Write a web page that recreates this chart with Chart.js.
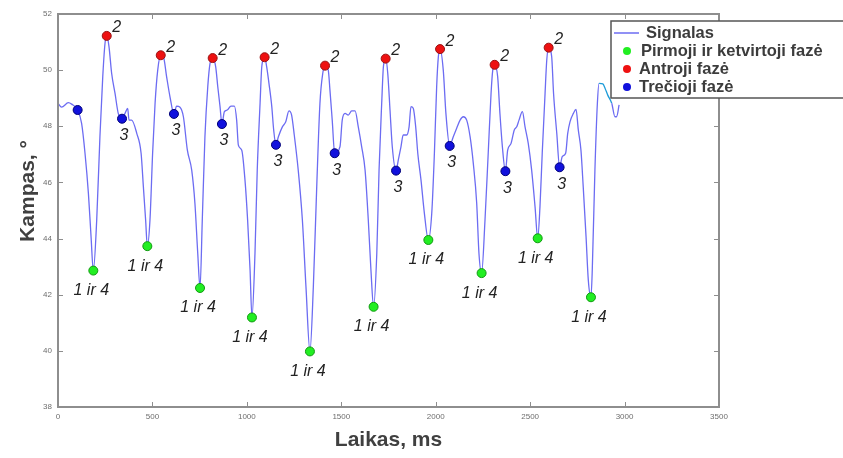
<!DOCTYPE html>
<html>
<head>
<meta charset="utf-8">
<script src="https://cdn.jsdelivr.net/npm/chart.js@4.4.1/dist/chart.umd.min.js"></script>
<style>
  body { margin: 0; background: #fff; }
  #wrap { width: 843px; height: 458px; position: relative; }
</style>
</head>
<body>
<div id="wrap"><canvas id="myChart"></canvas></div>
<script>
// signal (ms, degrees)
var sigX = [0,19,55,72,104,125,143,161,175,187,205,222,237,249,258,270,284,302,319,339,355,369,376,390,417,440,452,464,473,487,501,514,528,544,558,575,593,614,628,646,664,685,708,725,740,752,764,778,793,805,819,835,846,858,868,881,896,916,934,946,955,973,990,1004,1017,1027,1043,1055,1070,1079,1094,1105,1117,1132,1142,1154,1167,1188,1206,1223,1237,1251,1272,1294,1313,1334,1352,1370,1387,1402,1414,1431,1440,1452,1465,1493,1505,1520,1537,1555,1573,1590,1608,1626,1643,1657,1671,1688,1700,1714,1723,1735,1746,1758,1770,1790,1802,1816,1828,1846,1859,1869,1881,1894,1905,1922,1940,1961,1979,1993,2005,2014,2023,2040,2054,2074,2093,2111,2129,2146,2164,2182,2199,2217,2229,2243,2261,2278,2293,2302,2312,2328,2340,2353,2369,2381,2399,2416,2429,2441,2459,2473,2490,2508,2526,2540,2552,2564,2579,2588,2598,2614,2624,2641,2656,2670,2688,2699,2711,2729,2743,2755,2769,2781,2796,2808,2822,2829,2843,2856,2865,2885,2897,2911,2932,2949,2958,2971];
var sigY = [48.82,48.68,48.84,48.79,48.58,48.10,47.04,45.61,44.07,42.86,44.66,47.63,49.77,50.96,51.22,50.84,49.89,49.17,48.46,48.27,48.46,48.64,48.22,48.22,47.75,47.04,45.85,44.66,43.73,44.66,47.04,48.82,50.00,50.53,50.48,49.77,49.05,48.44,48.72,48.68,48.34,47.15,46.44,45.26,43.47,42.24,44.66,47.63,49.41,50.24,50.43,50.12,49.41,48.70,48.08,48.52,48.58,48.72,48.72,48.22,47.33,47.15,46.09,44.66,42.88,41.19,43.47,46.44,48.82,50.12,50.46,50.12,49.53,48.70,47.87,47.34,47.63,47.98,48.16,48.55,48.40,47.69,46.44,44.66,42.28,39.98,42.28,45.85,48.82,49.89,50.16,50.00,49.29,48.22,47.04,47.27,48.22,48.46,48.40,48.55,48.55,47.98,47.27,46.44,44.66,42.88,41.57,43.47,46.44,48.82,50.12,50.41,49.89,48.58,47.27,46.42,46.80,47.27,47.69,47.69,47.98,48.70,48.64,47.98,47.04,46.09,44.90,43.95,44.90,47.04,49.41,50.48,50.75,50.00,48.46,47.30,47.63,47.93,48.22,48.34,48.22,47.63,46.68,45.26,43.47,42.77,44.66,47.04,49.17,50.00,50.19,49.77,48.46,47.27,46.40,47.15,47.39,47.87,47.98,48.22,48.52,47.98,47.39,46.44,45.13,44.01,45.13,47.04,49.17,50.36,50.80,50.48,49.17,47.75,46.54,46.92,47.04,47.75,48.16,48.46,48.60,47.87,47.15,45.85,44.07,42.52,41.91,42.88,46.44,48.82,49.53,49.51,49.35,49.11,48.82,48.34,48.34,48.76];

// phase 1 & 4 (minima)
var ph14X = [187,473,752,1027,1334,1671,1961,2243,2540,2822];
var ph14Y = [42.86,43.73,42.24,41.19,39.98,41.57,43.95,42.77,44.01,41.91];
var ph14Lab = ['1 ir 4','1 ir 4','1 ir 4','1 ir 4','1 ir 4','1 ir 4','1 ir 4','1 ir 4','1 ir 4','1 ir 4'];
// phase 2 (maxima)
var ph2X = [258,544,819,1094,1414,1735,2023,2312,2598];
var ph2Y = [51.22,50.53,50.43,50.46,50.16,50.41,50.75,50.19,50.80];
var ph2Lab = ['2','2','2','2','2','2','2','2','2'];
// phase 3
var ph3X = [104,339,614,868,1154,1465,1790,2074,2369,2656];
var ph3Y = [48.58,48.27,48.44,48.08,47.34,47.04,46.42,47.30,46.40,46.54];
var ph3Lab = ['','3','3','3','3','3','3','3','3','3'];

var xTicks = [0,500,1000,1500,2000,2500,3000,3500];
var yTicks = [38,40,42,44,46,48,50,52];

var legendItems = ['Signalas','Pirmoji ir ketvirtoji fazė','Antroji fazė','Trečioji fazė'];

function pts(xs, ys) {
  return xs.map(function (x, i) { return {x: x, y: ys[i]}; });
}

var FONT = "'Liberation Sans', Arial, sans-serif";
var LINE = '#6c6cf2';

var phaseLabels = {
  id: 'phaseLabels',
  afterDatasetsDraw: function (chart) {
    var ctx = chart.ctx;
    ctx.save();
    ctx.font = 'italic 16px ' + FONT;
    ctx.fillStyle = '#222';
    ctx.textAlign = 'center';
    ctx.textBaseline = 'middle';
    var sets = [[1, ph14Lab, -2, 20], [2, ph2Lab, 10, -8], [3, ph3Lab, 2, 17]];
    sets.forEach(function (s) {
      var meta = chart.getDatasetMeta(s[0]);
      meta.data.forEach(function (p, i) {
        if (s[1][i]) ctx.fillText(s[1][i], p.x + s[2], p.y + s[3]);
      });
    });
    ctx.restore();
  }
};

var frame = {
  id: 'frame',
  afterDraw: function (chart) {
    var ctx = chart.ctx, a = chart.chartArea;
    var x = chart.scales.x, y = chart.scales.y;
    ctx.save();
    ctx.strokeStyle = '#8e8e8e';
    ctx.lineWidth = 2;
    ctx.strokeRect(a.left, a.top, a.right - a.left, a.bottom - a.top);
    ctx.lineWidth = 1;
    ctx.beginPath();
    xTicks.forEach(function (t) {
      var px = Math.round(x.getPixelForValue(t)) + 0.5;
      ctx.moveTo(px, a.bottom); ctx.lineTo(px, a.bottom - 5);
      ctx.moveTo(px, a.top); ctx.lineTo(px, a.top + 5);
    });
    yTicks.forEach(function (t) {
      var py = Math.round(y.getPixelForValue(t)) + 0.5;
      ctx.moveTo(a.left, py); ctx.lineTo(a.left + 5, py);
      ctx.moveTo(a.right, py); ctx.lineTo(a.right - 5, py);
    });
    ctx.stroke();

    // y title
    ctx.save();
    ctx.translate(28, 191);
    ctx.rotate(-Math.PI / 2);
    ctx.font = 'bold 21px ' + FONT;
    ctx.fillStyle = '#404040';
    ctx.textAlign = 'center';
    ctx.textBaseline = 'middle';
    ctx.fillText('Kampas, °', 0, 0);
    ctx.restore();

    // legend box
    var lx = 611, ly = 21, lw = 240, lh = 77;
    ctx.fillStyle = '#fff';
    ctx.fillRect(lx, ly, lw, lh);
    ctx.strokeStyle = '#555';
    ctx.lineWidth = 1.5;
    ctx.strokeRect(lx, ly, lw, lh);
    ctx.font = 'bold 16.5px ' + FONT;
    ctx.fillStyle = '#3c3c3c';
    ctx.textBaseline = 'middle';
    ctx.textAlign = 'left';
    var rowY = [33, 51, 69, 87];
    ctx.strokeStyle = LINE;
    ctx.lineWidth = 1.5;
    ctx.beginPath(); ctx.moveTo(614, rowY[0]); ctx.lineTo(639, rowY[0]); ctx.stroke();
    ctx.fillText(legendItems[0], 646, rowY[0]);
    var dots = ['#22ee22', '#ee1111', '#1111dd'];
    var tx = [641, 639, 639];
    for (var i = 0; i < 3; i++) {
      ctx.beginPath();
      ctx.arc(627, rowY[i + 1], 4, 0, Math.PI * 2);
      ctx.fillStyle = dots[i];
      ctx.fill();
      ctx.fillStyle = '#3c3c3c';
      ctx.fillText(legendItems[i + 1], tx[i], rowY[i + 1]);
    }
    ctx.restore();
  }
};

var ctx = document.getElementById('myChart').getContext('2d');
var config = {
  type: 'scatter',
  data: {
    datasets: [{
      type: 'line',
      label: legendItems[0],
      data: pts(sigX, sigY),
      borderColor: LINE,
      borderWidth: 1.3,
      pointRadius: 0,
      cubicInterpolationMode: 'monotone',
      segment: {
        borderColor: function (c) {
          return (c.p0.parsed.x >= 2865 && c.p1.parsed.x <= 2932) ? '#1c9bd8' : undefined;
        }
      },
      order: 4
    }, {
      label: legendItems[1],
      data: pts(ph14X, ph14Y),
      pointRadius: 4.5,
      pointBackgroundColor: '#22ee22',
      pointBorderColor: '#119911',
      pointBorderWidth: 1,
      order: 1
    }, {
      label: legendItems[2],
      data: pts(ph2X, ph2Y),
      pointRadius: 4.5,
      pointBackgroundColor: '#ee1111',
      pointBorderColor: '#991111',
      pointBorderWidth: 1,
      order: 2
    }, {
      label: legendItems[3],
      data: pts(ph3X, ph3Y),
      pointRadius: 4.5,
      pointBackgroundColor: '#1111dd',
      pointBorderColor: '#000077',
      pointBorderWidth: 1,
      order: 3
    }]
  },
  options: {
    responsive: true,
    maintainAspectRatio: false,
    animation: false,
    layout: { padding: { left: 0, right: 124, top: 14, bottom: 0 } },
    plugins: { legend: { display: false }, tooltip: { enabled: false } },
    scales: {
      x: {
        type: 'linear',
        min: 0, max: 3500,
        afterFit: function (s) { s.height = 51; },
        afterBuildTicks: function (s) { s.ticks = xTicks.map(function (v) { return {value: v}; }); },
        grid: { display: false, drawTicks: false },
        border: { display: true, color: '#8e8e8e', width: 2 },
        ticks: { padding: 5, color: '#6e6e6e', font: { size: 8, family: FONT }, maxRotation: 0,
                 callback: function (v) { return String(v); } },
        title: { display: true, text: 'Laikas, ms', color: '#404040', font: { size: 21, weight: 'bold', family: FONT }, padding: { top: 0, bottom: 5 } }
      },
      y: {
        min: 38, max: 52,
        afterFit: function (s) { s.width = 58; },
        afterBuildTicks: function (s) { s.ticks = yTicks.map(function (v) { return {value: v}; }); },
        grid: { display: false, drawTicks: false },
        border: { display: true, color: '#8e8e8e', width: 2 },
        ticks: { padding: 6, color: '#6e6e6e', font: { size: 8, family: FONT },
                 callback: function (v) { return String(v); } }
      }
    }
  },
  plugins: [phaseLabels, frame]
};

var chart = new Chart(ctx, config);
</script>
</body>
</html>
